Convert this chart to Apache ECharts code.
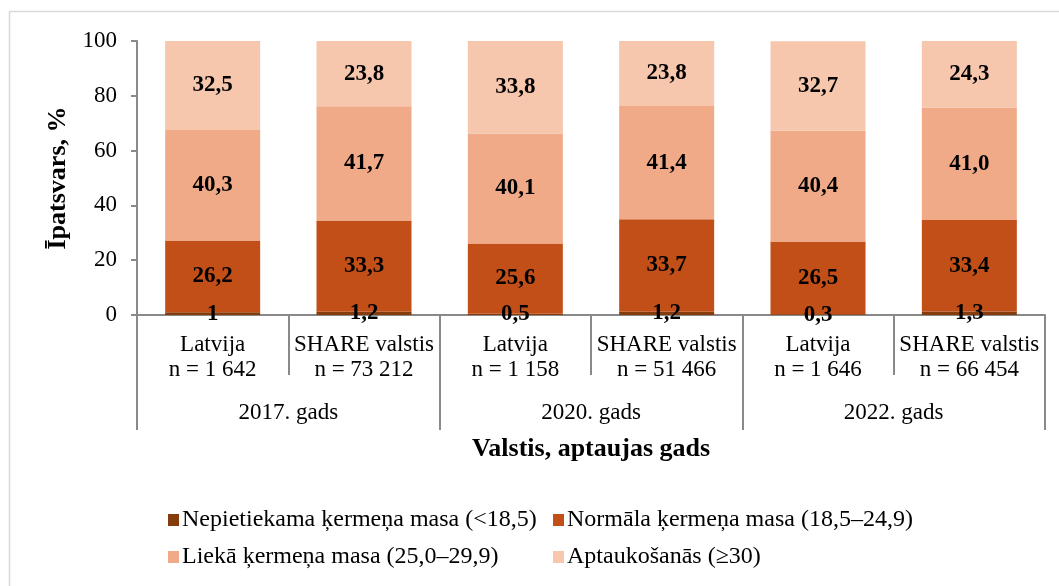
<!DOCTYPE html>
<html>
<head>
<meta charset="utf-8">
<style>
html, body { margin: 0; padding: 0; background: #fff; }
#chart { width: 1059px; height: 586px; }
</style>
<script src="https://cdn.jsdelivr.net/npm/echarts@6/dist/echarts.min.js"></script>
</head>
<body>
<div id="chart"></div>
<script>
// categories
const countries = ['Latvija\nn = 1 642', 'SHARE valstis\nn = 73 212', 'Latvija\nn = 1 158', 'SHARE valstis\nn = 51 466', 'Latvija\nn = 1 646', 'SHARE valstis\nn = 66 454']
const years = ['2017. gads', '2020. gads', '2022. gads']
const yTicks = [0, 20, 40, 60, 80, 100]

// series values, %
const underweight = [1, 1.2, 0.5, 1.2, 0.3, 1.3]
const normal = [26.2, 33.3, 25.6, 33.7, 26.5, 33.4]
const overweight = [40.3, 41.7, 40.1, 41.4, 40.4, 41.0]
const obese = [32.5, 23.8, 33.8, 23.8, 32.7, 24.3]

const names = [
  'Nepietiekama ķermeņa masa (<18,5)',
  'Normāla ķermeņa masa (18,5–24,9)',
  'Liekā ķermeņa masa (25,0–29,9)',
  'Aptaukošanās (≥30)'
]
const colors = ['#843C0C', '#C24F17', '#F0AA88', '#F6C6AD']

const font = 'Liberation Serif'
const axisGrey = '#898989'

function barSeries (idx, data, plain) {
  return {
    name: names[idx],
    type: 'bar',
    stack: 'all',
    barWidth: 95,
    itemStyle: { color: colors[idx] },
    label: {
      show: true,
      position: 'inside',
      fontFamily: font,
      fontWeight: 'bold',
      fontSize: 23,
      color: '#000',
      formatter: p => (plain ? String(p.value) : p.value.toFixed(1)).replace('.', ',')
    },
    data: data
  }
}

function legendAt (idx, left, top) {
  return {
    data: [names[idx]],
    left: left,
    top: top,
    itemWidth: 11,
    itemHeight: 12,
    itemGap: 4,
    icon: 'rect',
    selectedMode: false,
    textStyle: { fontFamily: font, fontSize: 24, color: '#000', padding: [0, 0, 0, -2] }
  }
}

const myChart = echarts.init(document.getElementById('chart'))
myChart.setOption({
  animation: false,
  backgroundColor: '#fff',
  graphic: [{
    type: 'rect',
    shape: { x: 9.5, y: 11.5, width: 1060, height: 590 },
    style: { fill: 'none', stroke: '#d9d9d9', lineWidth: 1.5 },
    z: -1
  }],
  legend: [
    legendAt(0, 163, 503),
    legendAt(1, 548, 503),
    legendAt(2, 163, 540),
    legendAt(3, 548, 540)
  ],
  grid: { left: 137, right: 14, top: 41, bottom: 271 },
  xAxis: [
    {
      type: 'category',
      data: countries,
      axisLine: { lineStyle: { color: axisGrey, width: 2 } },
      axisTick: { show: true, length: 60, alignWithLabel: false, lineStyle: { color: axisGrey, width: 2 } },
      axisLabel: { fontFamily: font, fontSize: 23, color: '#000', lineHeight: 25, margin: 17, interval: 0 }
    },
    {
      type: 'category',
      data: years,
      position: 'bottom',
      offset: 60,
      axisLine: { show: false },
      axisTick: { show: true, length: 55, alignWithLabel: false, lineStyle: { color: axisGrey, width: 2 } },
      axisLabel: { fontFamily: font, fontSize: 23, color: '#000', margin: 26, interval: 0 },
      name: 'Valstis, aptaujas gads',
      nameLocation: 'middle',
      nameGap: 61,
      nameTextStyle: { fontFamily: font, fontSize: 26, fontWeight: 'bold', color: '#000' }
    }
  ],
  yAxis: {
    type: 'value',
    min: yTicks[0],
    max: yTicks[yTicks.length - 1],
    interval: 20,
    splitLine: { show: false },
    axisLine: { show: true, lineStyle: { color: axisGrey, width: 2 } },
    axisTick: { show: true, length: 6, lineStyle: { color: axisGrey, width: 2 } },
    axisLabel: { fontFamily: font, fontSize: 23, color: '#000', margin: 20 },
    name: 'Īpatsvars, %',
    nameLocation: 'middle',
    nameGap: 66,
    nameTextStyle: { fontFamily: font, fontSize: 26, fontWeight: 'bold', color: '#000' }
  },
  series: [
    barSeries(0, underweight, true),
    barSeries(1, normal),
    barSeries(2, overweight),
    barSeries(3, obese)
  ]
})
</script>
</body>
</html>
